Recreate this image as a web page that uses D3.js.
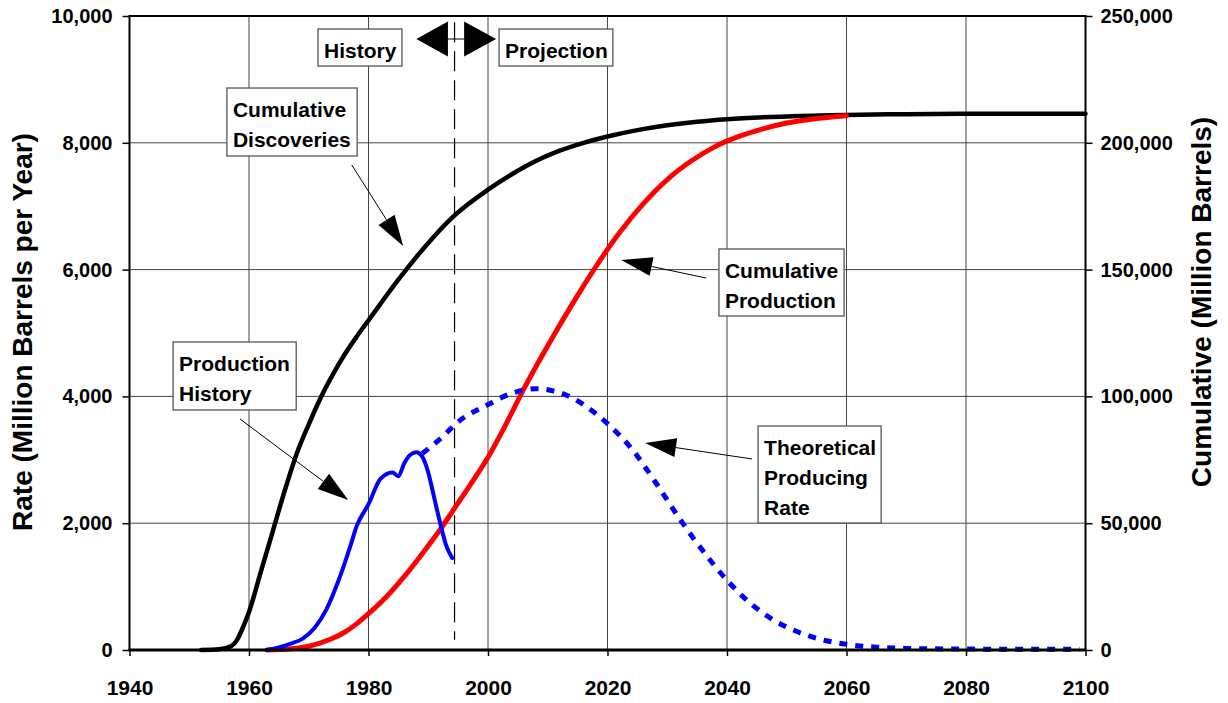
<!DOCTYPE html>
<html>
<head>
<meta charset="utf-8">
<script src="https://cdn.jsdelivr.net/npm/d3@7"></script>
<style>
  body { margin: 0; background: #fff; }
  svg { display: block; font-family: "Liberation Sans", Arial, sans-serif; font-weight: bold; }
</style>
</head>
<body>
<svg id="chart" width="1228" height="703"></svg>
<script>
// cumulative discoveries (million barrels, right axis)
const discYears = [1952, 1955, 1957, 1958, 1959, 1960, 1962, 1964, 1966, 1968, 1970, 1972, 1974, 1976, 1978, 1980, 1982, 1985, 1990, 1994, 2000, 2004, 2008, 2012, 2016, 2020, 2025, 2030, 2035, 2040, 2050, 2060, 2070, 2080, 2090, 2100];
const discCum = [0, 300, 1500, 4000, 9000, 15000, 31000, 47000, 63000, 77500, 89000, 99500, 108500, 116500, 123500, 130000, 136500, 146000, 160500, 170500, 181500, 187600, 192800, 196900, 200000, 202500, 205000, 206900, 208300, 209300, 210400, 211000, 211300, 211500, 211500, 211500];

// cumulative production (million barrels, right axis)
const prodYears = [1963, 1966, 1968, 1970, 1972, 1974, 1976, 1978, 1980, 1983, 1986, 1989, 1992, 1994, 1997, 2000, 2003, 2006, 2010, 2014, 2018, 2022, 2026, 2030, 2034, 2038, 2042, 2046, 2050, 2055, 2060];
const prodCum = [0, 250, 700, 1500, 2800, 4600, 7000, 10300, 14300, 21000, 29000, 38000, 47500, 54500, 65000, 76000, 89000, 103000, 120000, 136000, 151000, 164500, 176000, 185500, 192800, 198500, 202500, 205500, 207800, 209600, 210700];

// production history (million barrels per year, left axis)
const histYears = [1963, 1965, 1967, 1969, 1971, 1973, 1975, 1977, 1978, 1980, 1982, 1984, 1985, 1986, 1987, 1988, 1989, 1990, 1991, 1992, 1993, 1994];
const histRate = [0, 40, 100, 180, 350, 650, 1100, 1650, 1950, 2300, 2700, 2800, 2740, 2950, 3080, 3120, 3050, 2800, 2400, 2000, 1650, 1450];

// theoretical producing rate (million barrels per year, left axis)
const theoYears = [1989, 1992, 1995, 2000, 2004, 2008, 2012, 2016, 2020, 2024, 2028, 2032, 2036, 2040, 2044, 2048, 2052, 2056, 2060, 2065, 2070, 2080, 2090, 2099];
const theoRate = [3100, 3330, 3600, 3870, 4050, 4120, 4060, 3870, 3570, 3180, 2650, 2080, 1560, 1100, 730, 460, 280, 160, 90, 45, 25, 15, 12, 12];

const yearTicks = [1940, 1960, 1980, 2000, 2020, 2040, 2060, 2080, 2100];
const rateTicks = [0, 2000, 4000, 6000, 8000, 10000];
const cumTicks = [0, 50000, 100000, 150000, 200000, 250000];

const divideYear = 1994.4;

// annotation boxes: [year0, rateTop, year1, rateBottom]
const notes = [
  { lines: ["History"], box: [1971.55, 9795, 1985.6, 9211] },
  { lines: ["Projection"], box: [2001.85, 9795, 2020.9, 9211] },
  { lines: ["Cumulative", "Discoveries"], box: [1956.3, 8864, 1978.1, 7792] },
  { lines: ["Production", "History"], box: [1947.3, 4858, 1967.9, 3786] },
  { lines: ["Cumulative", "Production"], box: [2038.65, 6325, 2059.6, 5268] },
  { lines: ["Theoretical", "Producing", "Rate"], box: [2045.2, 3533, 2065.8, 2003] }
];

// pointer arrows: tail -> tip, in (year, rate)
const pointers = [
  { from: [1977.2, 7650], to: [1985.8, 6372] },
  { from: [1958.5, 3643], to: [1976.6, 2366] },
  { from: [2036.5, 5867], to: [2022.3, 6151] },
  { from: [2044.2, 3013], to: [2026.3, 3265] }
];

const W = 1228, H = 703;
const mLeft = 129.5, mRight = 1085.5, mTop = 16, mBottom = 650;

const svg = d3.select('#chart');
svg.append('rect').attr('width', W).attr('height', H).attr('fill', '#fff');

const x = d3.scaleLinear().domain([1940, 2100]).range([mLeft, mRight]);
const yRate = d3.scaleLinear().domain([0, 10000]).range([mBottom, mTop]);
const yCum = d3.scaleLinear().domain([0, 250000]).range([mBottom, mTop]);

// grid
const grid = svg.append('g').attr('stroke', '#444').attr('stroke-width', 1);
grid.selectAll('line.v')
  .data(yearTicks.slice(1, -1))
  .enter().append('line')
  .attr('x1', d => x(d)).attr('x2', d => x(d))
  .attr('y1', mTop).attr('y2', mBottom);
grid.selectAll('line.h')
  .data(rateTicks.slice(1, -1))
  .enter().append('line')
  .attr('x1', mLeft).attr('x2', mRight)
  .attr('y1', d => yRate(d)).attr('y2', d => yRate(d));

// history / projection divider
svg.append('line')
  .attr('x1', x(divideYear)).attr('x2', x(divideYear))
  .attr('y1', yRate(9900)).attr('y2', yRate(160))
  .attr('stroke', '#000').attr('stroke-width', 1.2)
  .attr('stroke-dasharray', '20,9');

// axes
const fmt = d3.format(',');
const axL = svg.append('g').attr('transform', `translate(${mLeft},0)`)
  .call(d3.axisLeft(yRate).tickValues(rateTicks).tickSize(7).tickPadding(10).tickFormat(fmt));
const axR = svg.append('g').attr('transform', `translate(${mRight},0)`)
  .call(d3.axisRight(yCum).tickValues(cumTicks).tickSize(7).tickPadding(8).tickFormat(fmt));
const axB = svg.append('g').attr('transform', `translate(0,${mBottom})`)
  .call(d3.axisBottom(x).tickValues(yearTicks).tickSize(6).tickPadding(24).tickFormat(d3.format('d')));
[axL, axR, axB].forEach(a => {
  a.select('.domain').remove();
  a.selectAll('.tick line').attr('stroke', '#000').attr('stroke-width', 1.5);
  a.selectAll('.tick text').attr('fill', '#000')
    .style('font-family', '"Liberation Sans", Arial, sans-serif').style('font-weight', 'bold');
});
axL.selectAll('.tick text').style('font-size', '20px');
axR.selectAll('.tick text').style('font-size', '20px');
axB.selectAll('.tick text').style('font-size', '21px');

// axis titles
svg.append('text')
  .attr('transform', `translate(32,332) rotate(-90)`)
  .attr('text-anchor', 'middle').style('font-size', '28px')
  .text('Rate (Million Barrels per Year)');
svg.append('text')
  .attr('transform', `translate(1211,302) rotate(-90)`)
  .attr('text-anchor', 'middle').style('font-size', '28px')
  .text('Cumulative (Million Barrels)');

// curves
const zip = (a, b) => a.map((v, i) => [v, b[i]]);
const lineRate = d3.line().x(d => x(d[0])).y(d => yRate(d[1])).curve(d3.curveMonotoneX);
const lineCum = d3.line().x(d => x(d[0])).y(d => yCum(d[1])).curve(d3.curveMonotoneX);

svg.append('path').datum(zip(discYears, discCum))
  .attr('d', lineCum).attr('fill', 'none')
  .attr('stroke', '#000').attr('stroke-width', 4.5).attr('stroke-linejoin', 'round').attr('stroke-linecap', 'round');

svg.append('path').datum(zip(prodYears, prodCum))
  .attr('d', lineCum).attr('fill', 'none')
  .attr('stroke', '#ff0000').attr('stroke-width', 5).attr('stroke-linejoin', 'round').attr('stroke-linecap', 'round');

svg.append('path').datum(zip(theoYears, theoRate))
  .attr('d', lineRate).attr('fill', 'none')
  .attr('stroke', '#0000ff').attr('stroke-width', 5).attr('stroke-dasharray', '8,8');

svg.append('path').datum(zip(histYears, histRate))
  .attr('d', lineRate).attr('fill', 'none')
  .attr('stroke', '#0000ff').attr('stroke-width', 4).attr('stroke-linejoin', 'round').attr('stroke-linecap', 'round');

// frame
svg.append('rect')
  .attr('x', mLeft).attr('y', mTop).attr('width', mRight - mLeft).attr('height', mBottom - mTop)
  .attr('fill', 'none').attr('stroke', '#000').attr('stroke-width', 2);
svg.append('line')
  .attr('x1', mLeft - 1).attr('x2', mRight + 1).attr('y1', mBottom).attr('y2', mBottom)
  .attr('stroke', '#000').attr('stroke-width', 3);

// annotation boxes
notes.forEach(n => {
  const [y0, r0, y1, r1] = n.box;
  const bx = x(y0), by = yRate(r0);
  const g = svg.append('g');
  g.append('rect')
    .attr('x', bx).attr('y', by)
    .attr('width', x(y1) - bx).attr('height', yRate(r1) - by)
    .attr('fill', '#fff').attr('stroke', '#555').attr('stroke-width', 1.3);
  n.lines.forEach((t, i) => {
    g.append('text')
      .attr('x', bx + 6).attr('y', by + 29 + i * 30)
      .style('font-size', '21px').attr('fill', '#000')
      .text(t);
  });
});

// pointer arrows
function arrow(x1, y1, x2, y2, len, half) {
  const a = Math.atan2(y2 - y1, x2 - x1);
  const bx = x2 - len * Math.cos(a), by = y2 - len * Math.sin(a);
  const px = -Math.sin(a) * half, py = Math.cos(a) * half;
  svg.append('line')
    .attr('x1', x1).attr('y1', y1).attr('x2', bx).attr('y2', by)
    .attr('stroke', '#000').attr('stroke-width', 1);
  svg.append('polygon')
    .attr('points', `${x2},${y2} ${bx + px},${by + py} ${bx - px},${by - py}`)
    .attr('fill', '#000');
}
pointers.forEach(p => {
  arrow(x(p.from[0]), yRate(p.from[1]), x(p.to[0]), yRate(p.to[1]), 31, 9.5);
});

// double arrow at the divider
const dy = yRate(9637);
const baseL = x(1993.3), baseR = x(1996.0);
svg.append('line').attr('x1', baseL).attr('x2', baseR).attr('y1', dy).attr('y2', dy)
  .attr('stroke', '#000').attr('stroke-width', 1);
svg.append('polygon')
  .attr('points', `${x(1988.0)},${dy} ${baseL},${dy - 17.5} ${baseL},${dy + 17.5}`)
  .attr('fill', '#000');
svg.append('polygon')
  .attr('points', `${x(2001.35)},${dy} ${baseR},${dy - 17.5} ${baseR},${dy + 17.5}`)
  .attr('fill', '#000');
</script>
</body>
</html>
